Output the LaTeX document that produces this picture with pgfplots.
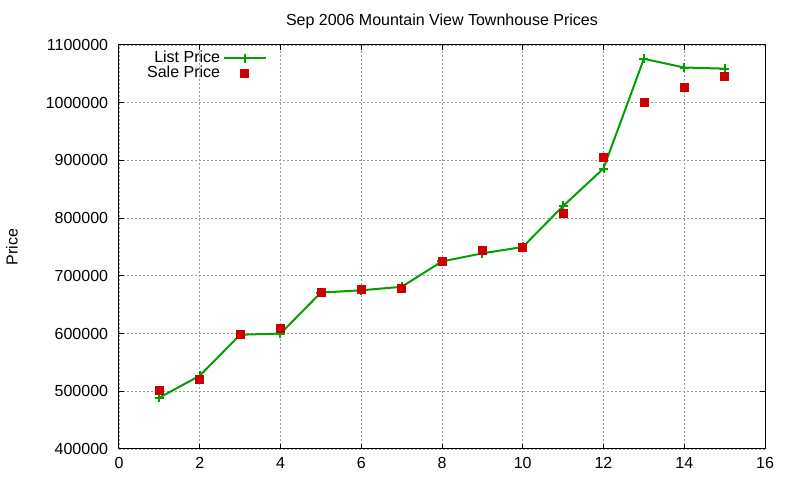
\documentclass[border=0pt]{standalone}
\usepackage{pgfplots}
\pgfplotsset{compat=1.18}
\usepackage{fontspec}
\setmainfont{Liberation Sans}
\definecolor{lgreen}{RGB}{0,160,0}
\definecolor{sred}{RGB}{204,0,0}
\begin{document}
\fontsize{12}{14}\selectfont
\begin{tikzpicture}
\begin{axis}[
  name=ax,
  scale only axis,
  width=484.5pt, height=303pt,
  xmin=0, xmax=16, ymin=400000, ymax=1100000,
  xtick={0,2,...,16},
  ytick={400000,500000,...,1100000},
  scaled y ticks=false,
  /pgf/number format/assume math mode=true,
  yticklabel style={/pgf/number format/fixed,/pgf/number format/1000 sep={}},
  ticklabel style={font=\fontsize{12}{14}\selectfont},
  tick align=inside,
  major tick length=3.5pt,
  tick style={black, line width=0.75pt},
  axis line style={line width=0.75pt},
  grid=major,
  major grid style={color=gray!80, line width=0.6pt, dash pattern=on 1.5pt off 1.5pt},
  title={Sep 2006 Mountain View Townhouse Prices},
  title style={font=\fontsize{12}{14}\selectfont, yshift=2pt},
  ylabel={Price},
  every axis y label/.append style={font=\fontsize{12}{14}\selectfont, at={(axis description cs:-0.1656,0.5)}, anchor=center},
  yticklabel style={xshift=-4pt},
  xticklabel style={yshift=-2pt},
  legend plot pos=right,
  legend cell align=right,
  legend style={draw=none, fill=none, at={(0.037,0.995)}, anchor=north west,
    font=\fontsize{12}{14}\selectfont, row sep=-3.5pt, inner sep=1pt},
  legend image code/.code={\draw[mark repeat=2,mark phase=2,#1] plot coordinates {(5pt,0pt) (20.75pt,0pt) (36.5pt,0pt)};},
]
\addplot[color=lgreen, line width=1.5pt, mark=+, mark size=3.4pt, mark options={line width=1.5pt}]
coordinates {
(1,489000) (2,527000) (3,598000) (4,600000) (5,671000) (6,675000) (7,681000)
(8,725000) (9,739000) (10,750000) (11,821000) (12,886000) (13,1076000) (14,1061000) (15,1059000)
};
\addlegendentry{List Price}
\addplot[only marks, color=sred, mark=square*, mark size=3pt, mark options={fill=sred, draw=sred}]
coordinates {
(1,502000) (2,521000) (3,598000) (4,610000) (5,672000) (6,676000) (7,678000)
(8,726000) (9,745000) (10,750000) (11,809000) (12,906000) (13,1000000) (14,1026000) (15,1045000)
};
\addlegendentry{Sale Price}
\end{axis}
\path ([shift={(-89.25pt,-23.25pt)}]ax.south west) rectangle ([shift={(26.25pt,33.75pt)}]ax.north east);
\end{tikzpicture}
\end{document}
